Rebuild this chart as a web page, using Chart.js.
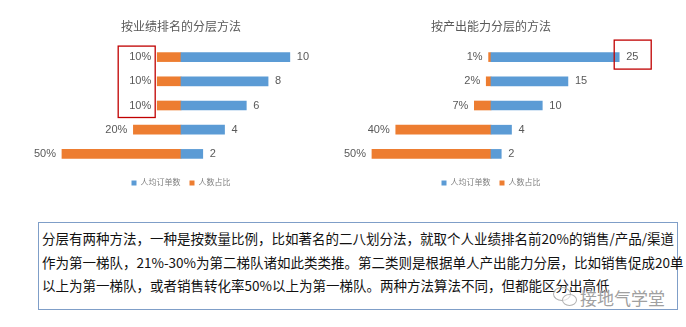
<!DOCTYPE html>
<html lang="zh">
<head>
  <meta http-equiv="content-type" content="text/html; charset=utf-8" />
  <script src="https://cdn.jsdelivr.net/npm/chart.js/dist/chart.umd.min.js"></script>
  <style>
    body { margin: 0; background: #fff; }
    #wrap { position: relative; width: 686px; height: 327px; overflow: hidden; }
    .box { position: absolute; top: 0; width: 340px; height: 200px; }
    .note {
      position: absolute; left: 38px; top: 222px; width: 632px; height: 80px;
      border: 1px solid #7f9ec8; padding: 4px 3px 2px 3px;
      font-family: "Noto Sans CJK SC", sans-serif; font-size: 13.5px; color: #111;
      line-height: 23.5px;
    }
    .note div { white-space: nowrap; }
    .note .j { text-align: justify; text-align-last: justify; }
    .mark {
      position: absolute; left: 580px; top: 285px;
      font-family: "Noto Sans CJK SC", sans-serif; font-size: 17px; color: #a0a0a0;
      text-shadow: 0 0 2px #fff, 0 0 2px #fff;
    }
    .ico1, .ico2 { position: absolute; border: 1.5px solid #b0b0b0; border-radius: 50%; }
    .ico1 { left: 553px; top: 287px; width: 16px; height: 12px; }
    .ico2 { left: 562px; top: 294px; width: 13px; height: 10px; background: rgba(255,255,255,0.6); }
  </style>
</head>
<body>
<div id="wrap">
  <div class="box" style="left:11px"><canvas id="rankChart" width="340" height="200"></canvas></div>
  <div class="box" style="left:321px"><canvas id="capChart" width="340" height="200"></canvas></div>
  <div class="note">
    <div class="j">分层有两种方法，一种是按数量比例，比如著名的二八划分法，就取个人业绩排名前20%的销售/产品/渠道</div>
    <div class="j">作为第一梯队，21%-30%为第二梯队诸如此类类推。第二类则是根据单人产出能力分层，比如销售促成20单</div>
    <div>以上为第一梯队，或者销售转化率50%以上为第一梯队。两种方法算法不同，但都能区分出高低</div>
  </div>
  <div class="ico1"></div><div class="ico2"></div>
  <div class="mark">接地气学堂</div>
</div>
<script>
// 数据
const tiers = ['第一梯队', '第二梯队', '第三梯队', '第四梯队', '第五梯队'];
const seriesNames = ['人均订单数', '人数占比'];
const rankOrders = [10, 8, 6, 4, 2];
const rankShare = [10, 10, 10, 20, 50];
const capOrders = [25, 15, 10, 4, 2];
const capShare = [1, 2, 7, 40, 50];

const BLUE = '#5b9bd5';
const ORANGE = '#ed7d31';
const FONT = "'Liberation Sans', 'Noto Sans CJK SC', sans-serif";

// 数据标签
const labelPlugin = {
  id: 'barLabels',
  afterDatasetsDraw(chart) {
    const ctx = chart.ctx;
    ctx.save();
    ctx.font = '11px ' + FONT;
    ctx.fillStyle = '#595959';
    ctx.textBaseline = 'middle';
    chart.data.datasets.forEach((ds, di) => {
      chart.getDatasetMeta(di).data.forEach((el, i) => {
        if (di === 0) {
          ctx.textAlign = 'left';
          ctx.fillText(ds.data[i], el.x + 7, el.y);
        } else {
          ctx.textAlign = 'right';
          ctx.fillText(ds.data[i] + '%', el.x - 6, el.y);
        }
      });
    });
    ctx.restore();
  }
};

// 红框标注
const highlightPlugin = {
  id: 'highlight',
  afterDraw(chart, args, opts) {
    if (!opts || opts.dataset === undefined) return;
    const els = chart.getDatasetMeta(opts.dataset).data;
    const a = els[opts.from], b = els[opts.to];
    const ctx = chart.ctx;
    ctx.save();
    ctx.strokeStyle = '#c00000';
    ctx.lineWidth = 1.3;
    const x0 = a.x + opts.dx0, x1 = a.x + opts.dx1;
    const y0 = a.y + opts.dy0, y1 = b.y + opts.dy1;
    ctx.strokeRect(x0, y0, x1 - x0, y1 - y0);
    ctx.restore();
  }
};

function makeChart(id, title, orders, share, blueMax, hl) {
  return new Chart(document.getElementById(id), {
    type: 'bar',
    data: {
      labels: tiers,
      datasets: [
        { label: seriesNames[0], data: orders, backgroundColor: BLUE, xAxisID: 'x', barThickness: 9, grouped: false },
        { label: seriesNames[1], data: share, backgroundColor: ORANGE, xAxisID: 'xs', barThickness: 9, grouped: false }
      ]
    },
    options: {
      indexAxis: 'y',
      responsive: false,
      animation: false,
      layout: { padding: { left: 10, right: 10, top: 0, bottom: 3 } },
      scales: {
        // 底部留空 4px，轴本身不显示
        x: {
          min: -blueMax, max: blueMax,
          grid: { display: false }, border: { display: false }, ticks: { display: false },
          afterFit(s) { s.height = 4; }
        },
        xs: { display: false, min: -67.2, max: 67.2, reverse: true },
        y: { display: false }
      },
      plugins: {
        title: {
          display: true, text: title, color: '#595959',
          font: { family: FONT, size: 12, weight: 'normal', lineHeight: 1.2 },
          padding: { top: 20, bottom: 10.6 }
        },
        legend: {
          position: 'bottom',
          labels: {
            color: '#7f7f7f', boxWidth: 5, boxHeight: 5, padding: 9,
            font: { family: FONT, size: 8 }
          }
        },
        tooltip: { enabled: false },
        highlight: hl
      }
    },
    plugins: [labelPlugin, highlightPlugin]
  });
}

makeChart('rankChart', '按业绩排名的分层方法', rankOrders, rankShare, 14.7,
  { dataset: 1, from: 0, to: 2, dx0: -39, dx1: -2, dy0: -11, dy1: 12 });
makeChart('capChart', '按产出能力分层的方法', capOrders, capShare, 31.2,
  { dataset: 0, from: 0, to: 0, dx0: -5, dx1: 32, dy0: -17, dy1: 12 });
</script>
</body>
</html>
